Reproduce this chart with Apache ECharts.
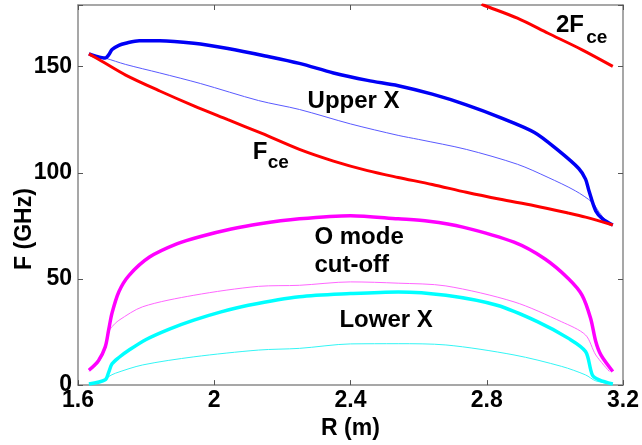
<!DOCTYPE html>
<html>
<head>
<meta charset="utf-8">
<script src="https://cdn.jsdelivr.net/npm/echarts@6/dist/echarts.min.js"></script>
<style>
  html, body { margin: 0; padding: 0; background: #fff; }
  #main { width: 642px; height: 445px; }
</style>
</head>
<body>
<div id="main"></div>
<script>
// 数据 (R in m, F in GHz)
const fceR = [1.632, 1.67, 1.74, 1.84, 1.94, 2.04, 2.14, 2.25, 2.35, 2.45, 2.54, 2.64, 2.74, 2.84, 2.94, 3.04, 3.09, 3.17];
const fceF = [156, 152.5, 146, 138.5, 131.5, 125, 118.5, 111, 105.5, 101, 97.8, 94.5, 90.8, 87.5, 84.5, 81, 79.1, 75.4];

const fce2R = [2.785, 2.79, 2.89, 2.98, 3.08, 3.17];
const fce2F = [179.5, 179, 172.8, 165.7, 157.9, 150.1];

const upperR = [1.632, 1.65, 1.68, 1.69, 1.70, 1.72, 1.74, 1.78, 1.84, 1.94, 2.04, 2.15, 2.25, 2.35, 2.45, 2.54, 2.64, 2.74, 2.84, 2.94, 3.01, 3.07, 3.09, 3.10, 3.12, 3.14, 3.17];
const upperF = [156, 155, 154, 155.5, 158, 160, 161, 162.2, 162.2, 161, 158.5, 155, 151.5, 147, 143.5, 141, 137, 132, 126, 119, 110.5, 102, 97, 91.5, 82, 78.3, 75.4];

const upperThinR = [1.632, 1.68, 1.74, 1.84, 1.96, 2.13, 2.25, 2.40, 2.54, 2.60, 2.74, 2.89, 2.98, 3.06, 3.11, 3.13, 3.15, 3.17];
const upperThinF = [156, 154, 151, 147, 142, 134, 129.8, 123, 117.6, 115.7, 111, 104, 97.8, 91.5, 86, 81.4, 77.5, 75.4];

const oR = [1.632, 1.66, 1.68, 1.69, 1.70, 1.72, 1.75, 1.81, 1.89, 1.96, 2.05, 2.13, 2.25, 2.40, 2.54, 2.63, 2.73, 2.88, 2.97, 3.04, 3.08, 3.105, 3.12, 3.135, 3.17];
const oF = [7, 11.5, 18, 26, 34, 44, 51.7, 60.3, 66.5, 70, 73.5, 75.9, 78.3, 79.8, 78.3, 77.2, 74.4, 67.3, 59.5, 50.1, 42.3, 31.4, 20.5, 14.2, 6.4];

const oThinR = [1.632, 1.66, 1.68, 1.69, 1.70, 1.72, 1.79, 1.94, 2.13, 2.25, 2.40, 2.54, 2.68, 2.88, 3.02, 3.09, 3.12, 3.16];
const oThinF = [6.5, 10.5, 17, 25, 27.5, 30.5, 36.9, 42.3, 46.5, 47, 48.6, 48, 46.7, 39.2, 29.8, 23.6, 14.2, 6.4];

const lowerR = [1.632, 1.68, 1.69, 1.70, 1.72, 1.75, 1.80, 1.87, 1.94, 2.02, 2.10, 2.25, 2.40, 2.54, 2.68, 2.83, 2.95, 3.04, 3.09, 3.11, 3.13, 3.17];
const lowerF = [0.5, 2.5, 6, 10, 13, 16.5, 21.5, 26.5, 30.6, 34.5, 37.6, 41.6, 43.1, 43.9, 42.3, 37.6, 29.8, 22, 15.8, 4.8, 2.5, 0.5];

const lowerThinR = [1.632, 1.68, 1.69, 1.71, 1.79, 1.94, 2.13, 2.25, 2.40, 2.54, 2.68, 2.88, 3.02, 3.09, 3.12, 3.17];
const lowerThinF = [0.5, 2.5, 4, 5.6, 9.5, 13.3, 16.5, 17.3, 19.4, 19.5, 18.9, 14.2, 8.8, 4.8, 2, 0.5];

// 注释文字 (anchor = left edge, in data coords)
const annoText = ['Upper X', 'F', 'ce', '2F', 'ce', 'O mode', 'cut-off', 'Lower X'];
const annoR = [2.274, 2.113, 2.157, 3.003, 3.092, 2.294, 2.294, 2.3675];
const annoF = [133.8, 109.8, 104.5, 169.2, 163.8, 69.8, 56.5, 30.7];
const annoSub = [false, false, true, false, true, false, false, false];

const zip = (xs, ys) => xs.map((x, i) => [x, ys[i]]);

const FONT = '"Liberation Sans", Arial, sans-serif';
const axisGray = '#8a8a8a';

const tickStyle = {show: true, inside: true, length: 5, lineStyle: {color: '#555', width: 1}};

function lineSeries(name, xs, ys, color, width) {
    return {
        name: name,
        type: 'line',
        data: zip(xs, ys),
        showSymbol: false,
        symbol: 'none',
        smooth: 0.3,
        clip: true,
        lineStyle: {color: color, width: width},
        silent: true
    };
}

const chart = echarts.init(document.getElementById('main'));

const option = {
    animation: false,
    backgroundColor: '#fff',
    grid: {left: 78, right: 18, top: 5, bottom: 58},
    // y 轴标题 (sits a bit below the middle, like the original)
    graphic: [{
        type: 'text',
        x: 25,
        y: 229,
        rotation: Math.PI / 2,
        style: {
            text: 'F (GHz)',
            fontFamily: FONT,
            fontSize: 23,
            fontWeight: 'bold',
            fill: '#000',
            align: 'center',
            verticalAlign: 'middle'
        }
    }],
    xAxis: [{
        type: 'value',
        min: 1.6, max: 3.2, interval: 0.4,
        name: 'R (m)',
        nameLocation: 'middle',
        nameGap: 31,
        nameTextStyle: {fontFamily: FONT, fontSize: 23, fontWeight: 'bold', color: '#000'},
        axisLine: {lineStyle: {color: axisGray, width: 1.5}},
        axisTick: tickStyle,
        axisLabel: {fontFamily: FONT, fontSize: 23, fontWeight: 'bold', color: '#000', margin: 4},
        splitLine: {show: false}
    }, {
        type: 'value',
        position: 'top',
        min: 1.6, max: 3.2, interval: 0.4,
        axisLine: {onZero: false, lineStyle: {color: axisGray, width: 1.5}},
        axisTick: tickStyle,
        axisLabel: {show: false},
        splitLine: {show: false}
    }],
    yAxis: [{
        type: 'value',
        min: 0, max: 179, interval: 50,
        axisLine: {show: true, lineStyle: {color: axisGray, width: 1.5}},
        axisTick: tickStyle,
        axisLabel: {
            fontFamily: FONT, fontSize: 23, fontWeight: 'bold', color: '#000', margin: 6,
            formatter: v => (v % 50 === 0 ? String(v) : '')
        },
        splitLine: {show: false}
    }, {
        type: 'value',
        position: 'right',
        min: 0, max: 179, interval: 50,
        axisLine: {show: true, onZero: false, lineStyle: {color: axisGray, width: 1.5}},
        axisTick: tickStyle,
        axisLabel: {show: false},
        splitLine: {show: false}
    }],
    series: [
        lineSeries('upper thin', upperThinR, upperThinF, '#5a5aff', 1),
        lineSeries('O thin', oThinR, oThinF, '#ff66ff', 1),
        lineSeries('lower thin', lowerThinR, lowerThinF, '#33f5f5', 1),
        lineSeries('Upper X', upperR, upperF, '#0000f5', 3.5),
        lineSeries('Fce', fceR, fceF, '#ff0000', 3),
        lineSeries('2Fce', fce2R, fce2F, '#ff0000', 3),
        lineSeries('O mode', oR, oF, '#ff00ff', 3.5),
        lineSeries('Lower X', lowerR, lowerF, '#00ffff', 3.5),
        {
            type: 'scatter',
            symbolSize: 0,
            silent: true,
            itemStyle: {opacity: 1},
            data: annoText.map((t, i) => ({
                value: [annoR[i], annoF[i]],
                label: {
                    show: true,
                    position: 'right',
                    distance: 0,
                    formatter: t,
                    fontFamily: FONT,
                    fontWeight: 'bold',
                    fontSize: annoSub[i] ? 19 : 24,
                    color: '#000'
                }
            }))
        }
    ]
};

chart.setOption(option);
</script>
</body>
</html>
